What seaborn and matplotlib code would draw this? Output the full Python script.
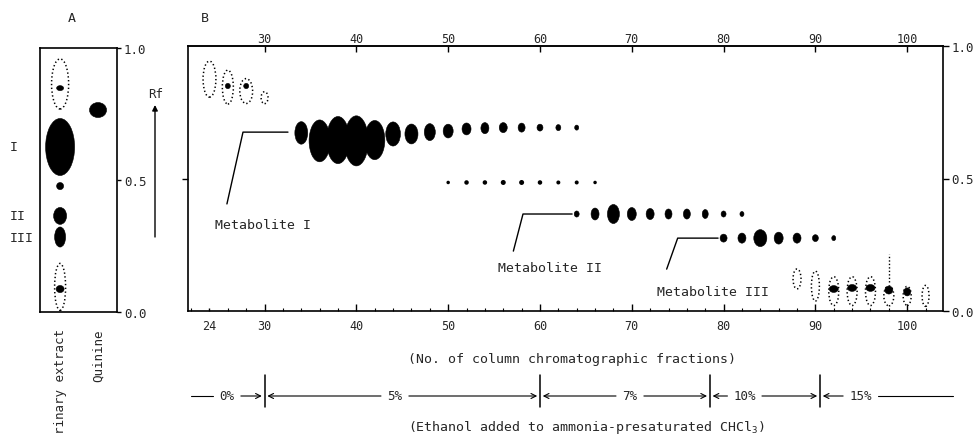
import matplotlib
matplotlib.use("Agg")
import matplotlib.pyplot as plt
import matplotlib.transforms as mtransforms
from matplotlib.patches import Ellipse
import seaborn as sns

W, H = 979, 439

# ---- Panel A: TLC of urinary extract and quinine (lane 0 / lane 1) ----
lanes = ["rinary extract", "Quinine"]
a_fill_lane = [0, 0, 0, 0, 0, 0, 1]
a_fill_rf = [0.848, 0.625, 0.477, 0.364, 0.284, 0.087, 0.765]
a_fill_w = [0.185, 0.765, 0.185, 0.343, 0.29, 0.21, 0.45]
a_fill_h = [0.019, 0.216, 0.027, 0.064, 0.076, 0.027, 0.057]
a_dot_lane = [0, 0]
a_dot_rf = [0.864, 0.095]
a_dot_w = [0.45, 0.29]
a_dot_h = [0.19, 0.178]
roman = ["I", "II", "III"]
roman_rf = [0.625, 0.364, 0.284]

# ---- Panel B: TLC of column fractions ----
pre_frac = [24, 26, 28, 30]
pre_rf = [0.875, 0.845, 0.83, 0.805]
pre_w = [1.4, 1.2, 1.4, 0.75]
pre_h = [0.136, 0.128, 0.094, 0.045]
pre_core_frac = [26, 28]
pre_core_rf = [0.849, 0.849]

met1_frac = [34, 36, 38, 40, 42, 44, 46, 48, 50, 52, 54, 56, 58, 60, 62, 64]
met1_rf = [0.672, 0.642, 0.645, 0.642, 0.645, 0.668, 0.668, 0.675, 0.679,
           0.687, 0.69, 0.692, 0.692, 0.692, 0.692, 0.692]
met1_w = [1.4, 2.3, 2.5, 2.6, 2.2, 1.6, 1.42, 1.2, 1.09, 0.98, 0.87, 0.87,
          0.76, 0.65, 0.54, 0.44]
met1_h = [0.085, 0.158, 0.178, 0.189, 0.148, 0.091, 0.075, 0.064, 0.052,
          0.045, 0.042, 0.038, 0.034, 0.026, 0.023, 0.019]

row_frac = [50, 52, 54, 56, 58, 60, 62, 64, 66]
row_rf = [0.485] * 9
row_d = [3.5, 4.5, 4.5, 5, 5, 4.5, 4, 4, 3.5]

met2_frac = [64, 66, 68, 70, 72, 74, 76, 78, 80, 82]
met2_rf = [0.366] * 10
met2_w = [0.54, 0.87, 1.31, 0.98, 0.87, 0.76, 0.76, 0.65, 0.54, 0.44]
met2_h = [0.023, 0.045, 0.072, 0.049, 0.042, 0.038, 0.038, 0.034, 0.023, 0.019]

met3_frac = [80, 82, 84, 86, 88, 90, 92]
met3_rf = [0.275] * 7
met3_w = [0.76, 0.87, 1.42, 0.98, 0.87, 0.65, 0.44]
met3_h = [0.030, 0.038, 0.064, 0.045, 0.038, 0.026, 0.019]

low_frac = [88, 90, 92, 94, 96, 98, 100, 102]
low_rf = [0.121, 0.094, 0.075, 0.075, 0.075, 0.057, 0.057, 0.057]
low_w = [0.87, 0.87, 1.09, 1.09, 1.09, 1.09, 0.87, 0.76]
low_h = [0.075, 0.113, 0.109, 0.109, 0.109, 0.075, 0.072, 0.079]
low_core_frac = [92, 94, 96, 98, 100]
low_core_rf = [0.083, 0.087, 0.087, 0.079, 0.072]
low_core_w = [0.98, 0.98, 0.98, 0.87, 0.76]
low_core_h = [0.026, 0.026, 0.026, 0.030, 0.030]
streak_frac = 98
streak_rf = [0.109, 0.215]

top_ticks = [30, 40, 50, 60, 70, 80, 90, 100]
bottom_ticks = [24] + top_ticks

# solvent gradient (% ethanol) over the fractions
grad_edges = [22.0, 30, 60, 78.5, 90.5, 105.0]
grad_labels = ["0%", "5%", "7%", "10%", "15%"]
grad_label_x = [25.9, 44.2, 69.8, 82.3, 94.9]


def fx(x):
    return x / W


def fy(y):
    return 1 - y / H


def draw_spots(ax, xs, ys, ws, hs, filled=True):
    for x, y, w, h in zip(xs, ys, ws, hs):
        if filled:
            e = Ellipse((x, y), w, h, facecolor="black", edgecolor="black", lw=0.4)
        else:
            e = Ellipse((x, y), w, h, fill=False, edgecolor="black", lw=1.1,
                        linestyle=(0, (0.9, 1.6)))
        ax.add_patch(e)


sns.set_style("white")
plt.rcParams["font.family"] = ["DejaVu Sans Mono"]
plt.rcParams["mathtext.default"] = "regular"

fig = plt.figure(figsize=(W / 100, H / 100), dpi=100)
axA = fig.add_axes([fx(40), fy(313), 77 / W, 264 / H])
axB = fig.add_axes([fx(188), fy(312), 755 / W, 265 / H])

for ax in (axA, axB):
    for s in ax.spines.values():
        s.set_color("black")
        s.set_linewidth(1.2)

# ---------- panel A ----------
draw_spots(axA, a_fill_lane, a_fill_rf, a_fill_w, a_fill_h, filled=True)
draw_spots(axA, a_dot_lane, a_dot_rf, a_dot_w, a_dot_h, filled=False)
axA.set_xlim(-0.53, 1.50)
axA.set_ylim(0, 1)
axA.set_xticks([0, 1])
axA.set_xticklabels([])
axA.set_yticks([0, 0.5, 1.0])
axA.set_yticklabels(["0.0", "0.5", "1.0"])
axA.tick_params(axis="x", direction="in", length=3, width=1, color="black")
axA.tick_params(axis="y", left=False, right=True, labelleft=False, labelright=True,
                direction="out", length=3, width=1, pad=2, labelsize=9, color="black")

transA_lane = mtransforms.blended_transform_factory(axA.transData, fig.transFigure)
for i, name in enumerate(lanes):
    axA.text(i, fy(329), name, transform=transA_lane, rotation=90,
             ha="center", va="top", fontsize=9, clip_on=False)

transA_y = mtransforms.blended_transform_factory(fig.transFigure, axA.transData)
for lab, rf in zip(roman, roman_rf):
    axA.text(fx(10), rf, lab, transform=transA_y, ha="left", va="center",
             fontsize=9.5, clip_on=False)

axA.annotate("", xy=(fx(155), fy(106)), xytext=(fx(155), fy(238)),
             xycoords="figure fraction", annotation_clip=False,
             arrowprops=dict(arrowstyle="-|>", lw=1.0, color="black",
                             mutation_scale=8, shrinkA=0, shrinkB=0))
fig.text(fx(156), fy(95), "Rf", ha="center", va="center", fontsize=9)
fig.text(fx(72), fy(18), "A", ha="center", va="center", fontsize=9.5)
fig.text(fx(205), fy(18), "B", ha="center", va="center", fontsize=9.5)

# ---------- panel B ----------
draw_spots(axB, pre_frac, pre_rf, pre_w, pre_h, filled=False)
draw_spots(axB, pre_core_frac, pre_core_rf, [0.55] * 2, [0.02] * 2, filled=True)
draw_spots(axB, met1_frac, met1_rf, met1_w, met1_h, filled=True)
draw_spots(axB, met2_frac, met2_rf, met2_w, met2_h, filled=True)
draw_spots(axB, met3_frac, met3_rf, met3_w, met3_h, filled=True)
draw_spots(axB, low_frac, low_rf, low_w, low_h, filled=False)
draw_spots(axB, low_core_frac, low_core_rf, low_core_w, low_core_h, filled=True)
axB.plot([streak_frac, streak_frac], streak_rf, color="black", lw=1.0,
         linestyle=(0, (1, 1.5)))
sns.scatterplot(x=row_frac, y=row_rf, s=[(d * 0.72) ** 2 for d in row_d],
                color="black", linewidth=0, ax=axB, legend=False)

axB.set_xlim(21.66, 103.9)
axB.set_ylim(0, 1)
axB.set_xticks(bottom_ticks)
axB.set_xticklabels([str(t) for t in bottom_ticks])
axB.set_xticks(list(range(22, 104, 2)), minor=True)
axB.tick_params(axis="x", which="major", direction="in", length=5, width=1,
                top=False, bottom=True, labelsize=8.5, pad=6, color="black")
axB.tick_params(axis="x", which="minor", direction="in", length=2.5, width=0.8,
                top=False, bottom=True, color="black")
axB.xaxis.get_major_ticks()[0].tick1line.set_markersize(2.5)

# fraction numbers along the top edge
top = axB.secondary_xaxis("top")
top.set_xticks(top_ticks)
top.set_xticklabels([str(t) for t in top_ticks])
top.tick_params(direction="in", length=4, width=1, pad=1, labelsize=8.5,
                color="black")
top.spines["top"].set_linewidth(1.2)

axB.set_yticks([0, 0.5, 1.0])
axB.set_yticklabels(["0.0", "0.5", "1.0"])
axB.tick_params(axis="y", left=True, right=True, labelleft=False, labelright=True,
                direction="out", length=4, width=1, pad=2, labelsize=9, color="black")
yt = axB.yaxis.get_major_ticks()
yt[0].tick1line.set_visible(False)
yt[2].tick1line.set_visible(False)

# metabolite call-outs (text anchor, then leader polyline)
callouts = [
    ("Metabolite I", (24.6, 0.328), [25.9, 27.65, 32.55], [0.404, 0.675, 0.675]),
    ("Metabolite II", (55.4, 0.166), [57.1, 58.15, 63.5], [0.226, 0.366, 0.366]),
    ("Metabolite III", (72.7, 0.072), [73.8, 75.0, 79.4], [0.158, 0.275, 0.275]),
]
for label, (tx, ty), lx, ly in callouts:
    axB.text(tx, ty, label, ha="left", va="center", fontsize=9.5)
    axB.plot(lx, ly, color="black", lw=1.0)

transB = mtransforms.blended_transform_factory(axB.transData, fig.transFigure)
axB.text(63.5, fy(360), "(No. of column chromatographic fractions)",
         transform=transB, ha="center", va="center", fontsize=9.5, clip_on=False)
axB.text(65.0, fy(428), "(Ethanol added to ammonia-presaturated CHCl$_3$)",
         transform=transB, ha="center", va="center", fontsize=9.5, clip_on=False)

gy = fy(397)
arrow_kw = dict(arrowstyle="->", lw=0.8, color="black", shrinkA=0, shrinkB=0,
                mutation_scale=9)
n = len(grad_labels)
for i, (lab, cx) in enumerate(zip(grad_labels, grad_label_x)):
    a, b = grad_edges[i], grad_edges[i + 1]
    hw = len(lab) * 0.36 + 0.8
    axB.text(cx, gy, lab, transform=transB, ha="center", va="center",
             fontsize=9, clip_on=False)
    if i == 0:
        axB.plot([a, cx - hw], [gy, gy], transform=transB, color="black",
                 lw=0.8, clip_on=False)
    else:
        axB.annotate("", xy=(a + 0.3, gy), xytext=(cx - hw, gy), xycoords=transB,
                     annotation_clip=False, arrowprops=arrow_kw)
    if i == n - 1:
        axB.plot([cx + hw, b], [gy, gy], transform=transB, color="black",
                 lw=0.8, clip_on=False)
    else:
        axB.annotate("", xy=(b - 0.3, gy), xytext=(cx + hw, gy), xycoords=transB,
                     annotation_clip=False, arrowprops=arrow_kw)
for e in grad_edges[1:-1]:
    axB.plot([e, e], [fy(376), fy(408)], transform=transB, color="black",
             lw=1.1, clip_on=False)

fig.savefig("out.png", dpi=100)
